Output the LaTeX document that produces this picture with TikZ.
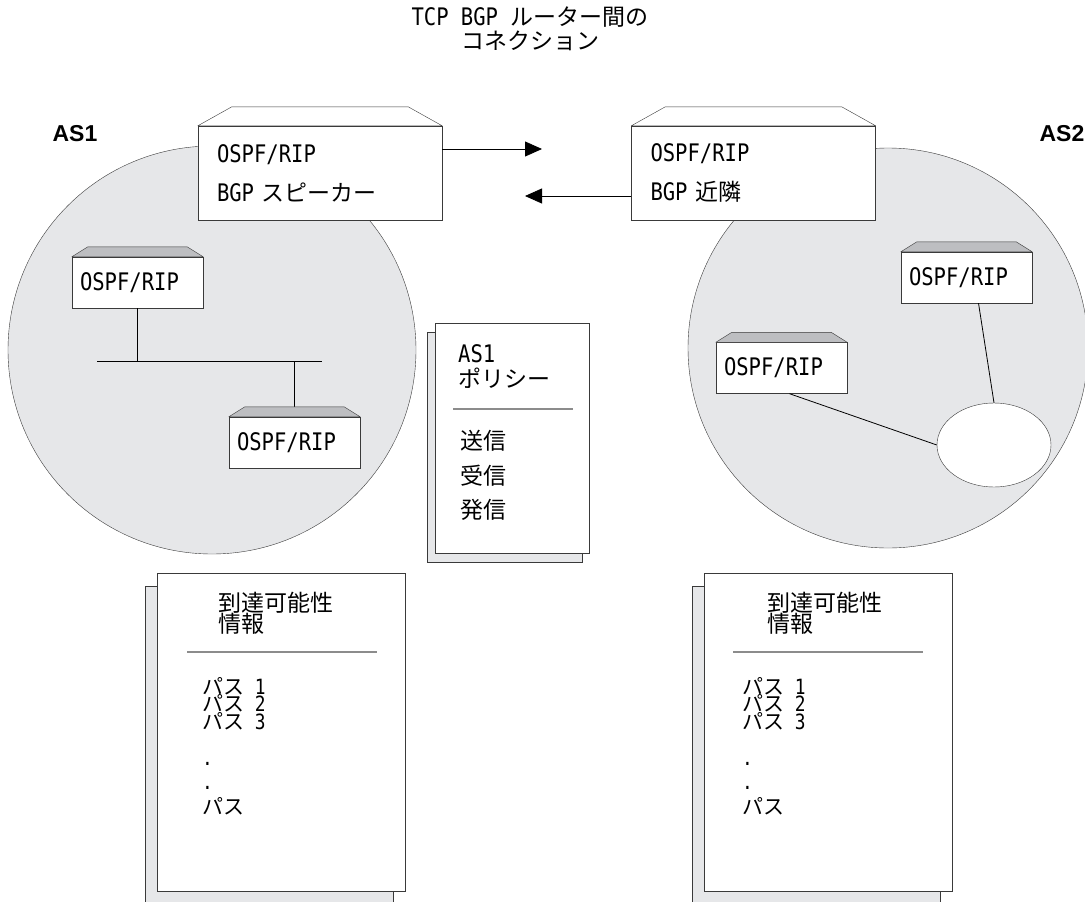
\documentclass[tikz,border=0pt]{standalone}
\usepackage{fontspec}
\setmainfont{Noto Sans CJK JP}
\newfontfamily\latfont{DejaVu Sans Mono}[FakeStretch=0.85,Scale=1.05]
\newfontfamily\asfont{Liberation Sans}
\newcommand{\lsf}[1]{{\latfont #1}}
\newcommand{\dig}[1]{{\latfont\fontsize{20}{20}\selectfont #1}}
\usetikzlibrary{arrows.meta,shapes.geometric}
\definecolor{areagray}{HTML}{E6E7E9}
\definecolor{topgray}{HTML}{BDBEC1}
\definecolor{linegray}{HTML}{3A3A3A}
\definecolor{rulegray}{HTML}{8C8C8C}
\tikzset{
  asarea/.style={circle, draw=linegray, fill=areagray, inner sep=0pt},
  router/.style={draw=linegray, fill=white, inner xsep=8pt, inner ysep=0pt, text width=115pt,
    minimum height=51pt, align=left, font=\fontsize{23}{24}\selectfont\latfont},
  bgpbox/.style={draw=linegray, fill=white, inner xsep=19pt, inner ysep=0pt, text width=206pt,
    minimum height=94pt, align=left, font=\fontsize{23}{39}\selectfont},
  roof/.style={draw=linegray, fill=topgray, line join=round},
  page/.style={draw=linegray, fill=white, inner sep=0pt},
  pageback/.style={draw=linegray, fill=areagray, inner sep=0pt},
  txt/.style={inner sep=0pt, anchor=base west, font=\fontsize{23}{23}\selectfont},
  pathitem/.style={txt, font=\fontsize{21}{21}\selectfont},
  rule/.style={draw=rulegray, line width=1.2pt},
  link/.style={draw=black, line width=0.8pt},
  flow/.style={draw=black, line width=0.8pt, -{Triangle[length=17pt,width=15pt]}},
  aslabel/.style={font=\asfont\bfseries\fontsize{23}{23}\selectfont, inner sep=0pt}
}
\begin{document}
\begin{tikzpicture}[x=1pt,y=-1pt]
\useasboundingbox (0,0) rectangle (1085,902);
\clip (0,0) rectangle (1085,902);
% title
\node[align=center, inner sep=0pt, font=\fontsize{23}{23.5}\selectfont] (title) at (530,29) {\lsf{TCP BGP\ }ルーター間の\\コネクション};

% autonomous systems
\node[asarea, minimum size=408pt] (as1) at (212,350) {};
\node[asarea, minimum size=400pt] (as2) at (888,348) {};
\node[aslabel] (as1lab) at (75,134) {AS1};
\node[aslabel] (as2lab) at (1062,134) {AS2};

% AS1: routers on a bus
\coordinate (busL) at (97,361);
\coordinate (busR) at (322,361);
\node[router] (ra) at (137.5,282.5) {OSPF/RIP};
\node[router] (rb) at (294.5,442.5) {OSPF/RIP};
\draw[link] (busL) -- (busR);
\draw[link] (ra.south) -- (ra.south |- busL);
\draw[link] ([yshift=10pt]rb.north) -- (rb.north |- busR);

% AS2: routers and network
\node[router] (rc) at (966.5,277.5) {OSPF/RIP};
\node[router] (rd) at (781.5,368) {OSPF/RIP};
\node[ellipse, draw=linegray, fill=white, minimum width=114pt, minimum height=84pt, inner sep=0pt] (net) at (994,445) {};
\draw[link] ([xshift=12pt]rc.south) -- (net.north);
\draw[link] ([xshift=8pt]rd.south) -- (net.west);

\foreach \rt in {ra,rb,rc,rd}
  \filldraw[roof] (\rt.north west) -- ([shift={(16pt,10pt)}]\rt.north west)
    -- ([shift={(-16pt,10pt)}]\rt.north east) -- (\rt.north east) -- cycle;

% BGP speaker and neighbour
\node[bgpbox] (bgps) at (320,173) {\lsf{OSPF/RIP}\\\lsf{BGP\ }スピーカー};
\node[bgpbox] (bgpn) at (753.5,173) {\lsf{OSPF/RIP}\\\lsf{BGP\ }近隣};
\foreach \bx in {bgps,bgpn}
  \filldraw[roof, fill=white] (\bx.north west) -- ([shift={(34pt,19pt)}]\bx.north west)
    -- ([shift={(-34pt,19pt)}]\bx.north east) -- (\bx.north east) -- cycle;

\coordinate (tipR) at (542,149);
\coordinate (tipL) at (525,196);
\draw[flow] (bgps.east |- tipR) -- (tipR);
\draw[flow] (bgpn.west |- tipL) -- (tipL);

% AS1 policy
\node[pageback, minimum width=155pt, minimum height=230pt] (polb) at (504.5,447) {};
\node[page, minimum width=154pt, minimum height=230pt] (pol) at (512,438) {};
\node[txt] (polt1) at (458,362) {\lsf{AS1}};
\node[txt] (polt2) at (458,387) {ポリシー};
\draw[rule] (453,409) -- (573,409);
\node[txt] (pols) at (460,449) {送信};
\node[txt] (polr) at (460,484) {受信};
\node[txt] (polo) at (460,518) {発信};

% reachability information, AS1
\node[pageback, minimum width=248pt, minimum height=318pt] (reachLb) at (269,745) {};
\node[page, minimum width=248pt, minimum height=318pt] (reachL) at (281,732) {};
\node[txt] (reachLt1) at (218,611) {到達可能性};
\node[txt] (reachLt2) at (218,632) {情報};
\draw[rule] (187,652) -- (377,652);
\node[pathitem] (reachLp1) at (202,694) {パス\dig{\ 1}};
\node[pathitem] (reachLp2) at (202,711.5) {パス\dig{\ 2}};
\node[pathitem] (reachLp3) at (202,729) {パス\dig{\ 3}};
\node[pathitem] (reachLd1) at (202,765) {\dig{.}};
\node[pathitem] (reachLd2) at (202,789) {\dig{.}};
\node[pathitem] (reachLpn) at (202,814) {パス};

% reachability information, AS2
\node[pageback, minimum width=248pt, minimum height=318pt] (reachRb) at (816,745) {};
\node[page, minimum width=248pt, minimum height=318pt] (reachR) at (828,732) {};
\node[txt] (reachRt1) at (767,611) {到達可能性};
\node[txt] (reachRt2) at (767,632) {情報};
\draw[rule] (733,652) -- (923,652);
\node[pathitem] (reachRp1) at (742,694) {パス\dig{\ 1}};
\node[pathitem] (reachRp2) at (742,711.5) {パス\dig{\ 2}};
\node[pathitem] (reachRp3) at (742,729) {パス\dig{\ 3}};
\node[pathitem] (reachRd1) at (742,765) {\dig{.}};
\node[pathitem] (reachRd2) at (742,789) {\dig{.}};
\node[pathitem] (reachRpn) at (742,814) {パス};
\end{tikzpicture}
\end{document}
